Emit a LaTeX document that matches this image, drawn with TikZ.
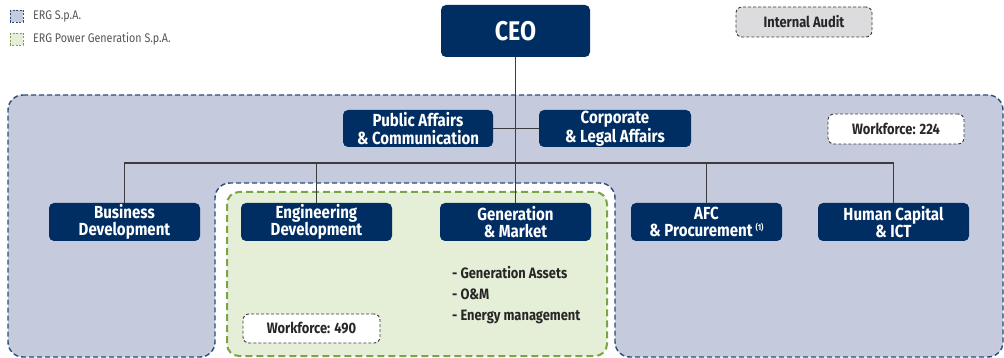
\documentclass[tikz,border=0pt]{standalone}
\usepackage{fontspec}
\setmainfont{Fira Sans}[FakeStretch=0.86]
\begin{document}
\definecolor{navy}{RGB}{0,45,98}
\definecolor{ergfill}{RGB}{197,202,221}
\definecolor{ergline}{RGB}{40,75,125}
\definecolor{pgfill}{RGB}{229,239,215}
\definecolor{pgline}{RGB}{122,165,70}
\definecolor{auditfill}{RGB}{220,220,222}
\definecolor{linkgray}{RGB}{60,60,60}
\definecolor{labelgray}{RGB}{85,85,85}
\begin{tikzpicture}[x=1pt,y=-1pt,
  orgbox/.style={fill=navy, rounded corners=5pt, text=white, inner sep=0pt,
    minimum width=151pt, minimum height=38pt, align=center,
    font=\fontsize{17.5}{17.5}\selectfont\bfseries},
  wfbox/.style={fill=white, draw=linkgray, dashed, dash pattern=on 3pt off 2pt,
    line width=0.9pt, rounded corners=6pt, inner sep=0pt,
    minimum width=136pt, minimum height=30pt,
    font=\fontsize{15}{16}\selectfont\bfseries, text=black!85},
  conn/.style={draw=linkgray, line width=1.1pt},
  legendtext/.style={anchor=west, inner sep=0pt, text=labelgray,
    font=\fontsize{12.5}{13}\selectfont}]
\useasboundingbox (0,0) rectangle (1004,358);

% ERG S.p.A. area, with the notch that holds the Power Generation area
\filldraw[fill=ergfill, draw=ergline, line width=1.4pt, dash pattern=on 5pt off 3pt,
  rounded corners=15pt]
  (8,95) -- (1003,95) -- (1003,357) -- (615,357) -- (615,183)
  -- (215,183) -- (215,357) -- (8,357) -- cycle;

% ERG Power Generation S.p.A. area
\filldraw[fill=pgfill, draw=pgline, line width=2pt, dash pattern=on 7pt off 4pt,
  rounded corners=12pt] (227,192) rectangle (607,356);

% Legend
\filldraw[fill=ergfill, draw=ergline, line width=0.8pt, dash pattern=on 2pt off 1.5pt]
  (10,10) rectangle (23,22);
\node[legendtext] (legerg) at (33,16) {ERG S.p.A.};
\filldraw[fill=pgfill, draw=pgline, line width=0.8pt, dash pattern=on 2pt off 1.5pt]
  (10,33) rectangle (23,45);
\node[legendtext] (legpg) at (33,39) {ERG Power Generation S.p.A.};

% Top level
\node[orgbox, minimum width=149pt, minimum height=52pt,
  font=\fontsize{27}{30}\selectfont\bfseries] (ceo) at (515.5,31) {CEO};
\node[wfbox, fill=auditfill, minimum height=30pt] (audit) at (804,22) {Internal Audit};

% Staff functions
\node[orgbox, minimum width=150pt, minimum height=37pt] (pac) at (418,128.5)
  {Public Affairs\\\& Communication};
\node[orgbox, minimum width=152pt, minimum height=37pt] (cla) at (615,128.5)
  {Corporate\\\& Legal Affairs};
\node[wfbox] (wf224) at (896,129) {Workforce: 224};

% Business lines
\node[orgbox] (bd)  at (124.5,222) {Business\\Development};
\node[orgbox] (ed)  at (316.5,222) {Engineering\\Development};
\node[orgbox] (gm)  at (515.5,222) {Generation\\\& Market};
\node[orgbox] (afc) at (706.5,222)
  {AFC\\\& Procurement\,\raisebox{0.7ex}{\fontsize{8.5}{9}\selectfont(1)}};
\node[orgbox] (hc)  at (893.5,222) {Human Capital\\\& ICT};

\node[anchor=north west, inner sep=0pt, align=left, text=black!85,
  font=\fontsize{15}{21}\selectfont\bfseries] (gmlist) at (452,266)
  {- Generation Assets\\- O\&M\\- Energy management};
\node[wfbox, minimum width=137pt, minimum height=29pt] (wf490) at (311.5,328.5)
  {Workforce: 490};

% Connectors
\coordinate (bus) at (515.5,163);
\draw[conn] (ceo.south) -- (gm.north);
\draw[conn] (pac.east) -- (cla.west);
\draw[conn] (bd.north) |- (bus) -| (hc.north);
\draw[conn] (ed.north) -- (ed.north |- bus);
\draw[conn] (afc.north) -- (afc.north |- bus);
\end{tikzpicture}
\end{document}
